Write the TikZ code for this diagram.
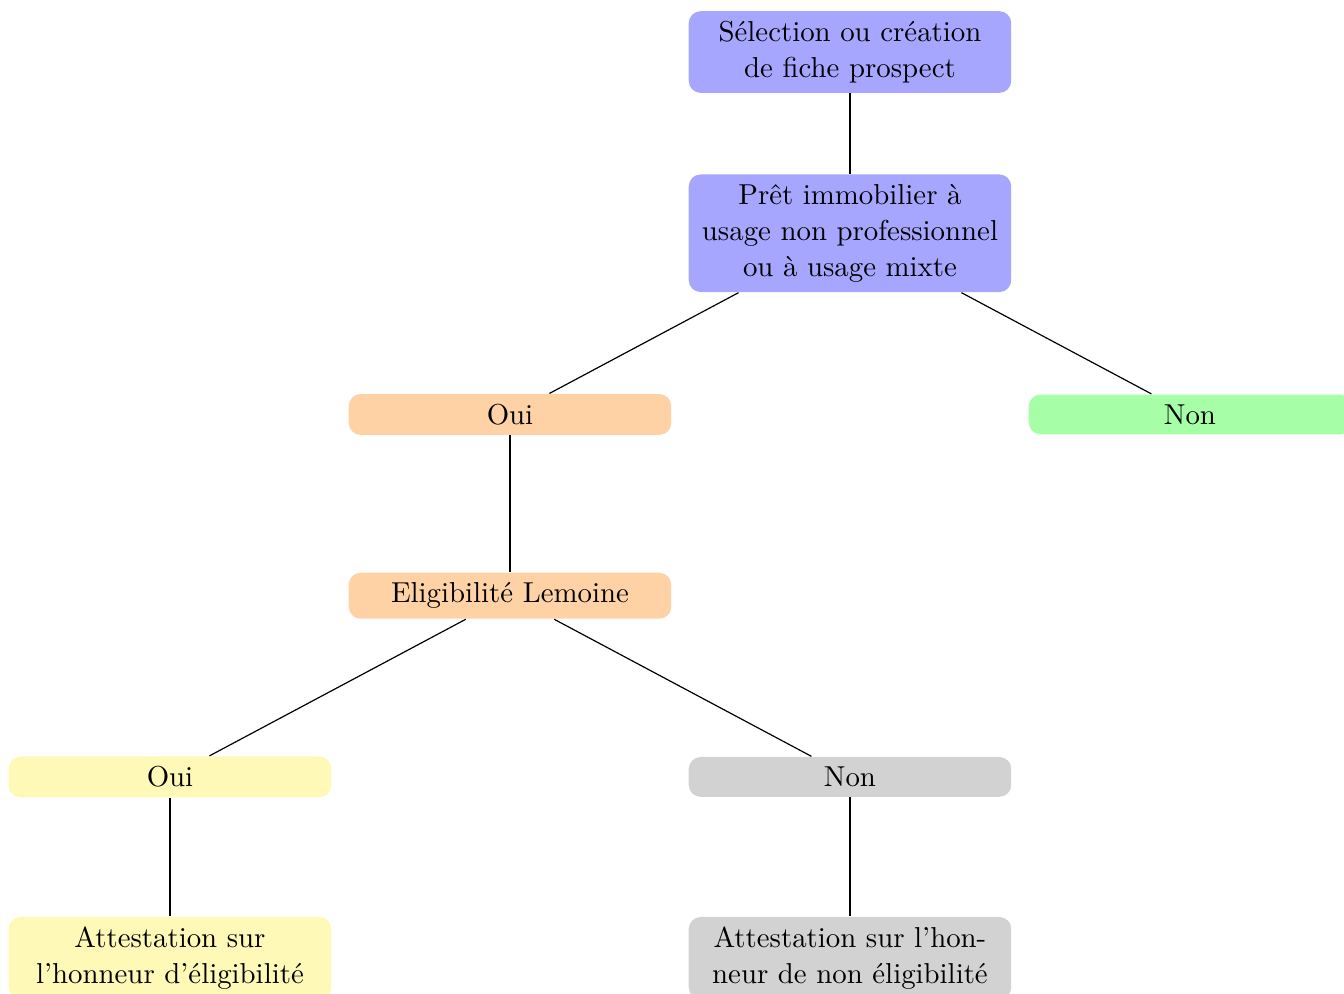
\documentclass[tikz,border=0pt]{standalone}
\definecolor{jaune}{HTML}{FFF9B8}
\tikzset{
  etape/.style={rounded corners=4pt, text width=3.56cm, align=center, inner sep=0.333em,
    font=\fontsize{9.65pt}{12pt}\selectfont},
  bleu/.style={etape, fill=blue!35},
  orange/.style={etape, fill=orange!35},
  vert/.style={etape, fill=green!35},
  jaunebox/.style={etape, fill=jaune},
  gris/.style={etape, fill=gray!35},
}
\begin{document}
\begin{tikzpicture}[line join=round]
  \useasboundingbox (-10,0.612) rectangle (5.812,-11.08);
  % niveaux
  \def\dy{2.132}
  \node[bleu] (fiche) at (0,0) {Sélection ou création\\de fiche prospect};
  \node[bleu] (pret) at (0,-\dy) {Prêt immobilier à\\usage non professionnel\\ou à usage mixte};
  \node[orange] (oui) at (-4,-2*\dy) {Oui};
  \node[vert] (non) at (4,-2*\dy) {Non};
  \node[orange] (lemoine) at (-4,-3*\dy) {Eligibilité Lemoine};
  \node[jaunebox] (ouiL) at (-8,-4*\dy) {Oui};
  \node[gris] (nonL) at (0,-4*\dy) {Non};
  \node[jaunebox] (attOui) at (-8,-5*\dy) {Attestation sur\\l'honneur d'éligibilité};
  \node[gris] (attNon) at (0,-5*\dy) {Attestation sur l'hon-\\neur de non éligibilité};
  % liens
  \draw (fiche) -- (pret);
  \draw (pret) -- (oui);
  \draw (pret) -- (non);
  \draw (oui) -- (lemoine);
  \draw (lemoine) -- (ouiL);
  \draw (lemoine) -- (nonL);
  \draw (ouiL) -- (attOui);
  \draw (nonL) -- (attNon);
\end{tikzpicture}
\end{document}
